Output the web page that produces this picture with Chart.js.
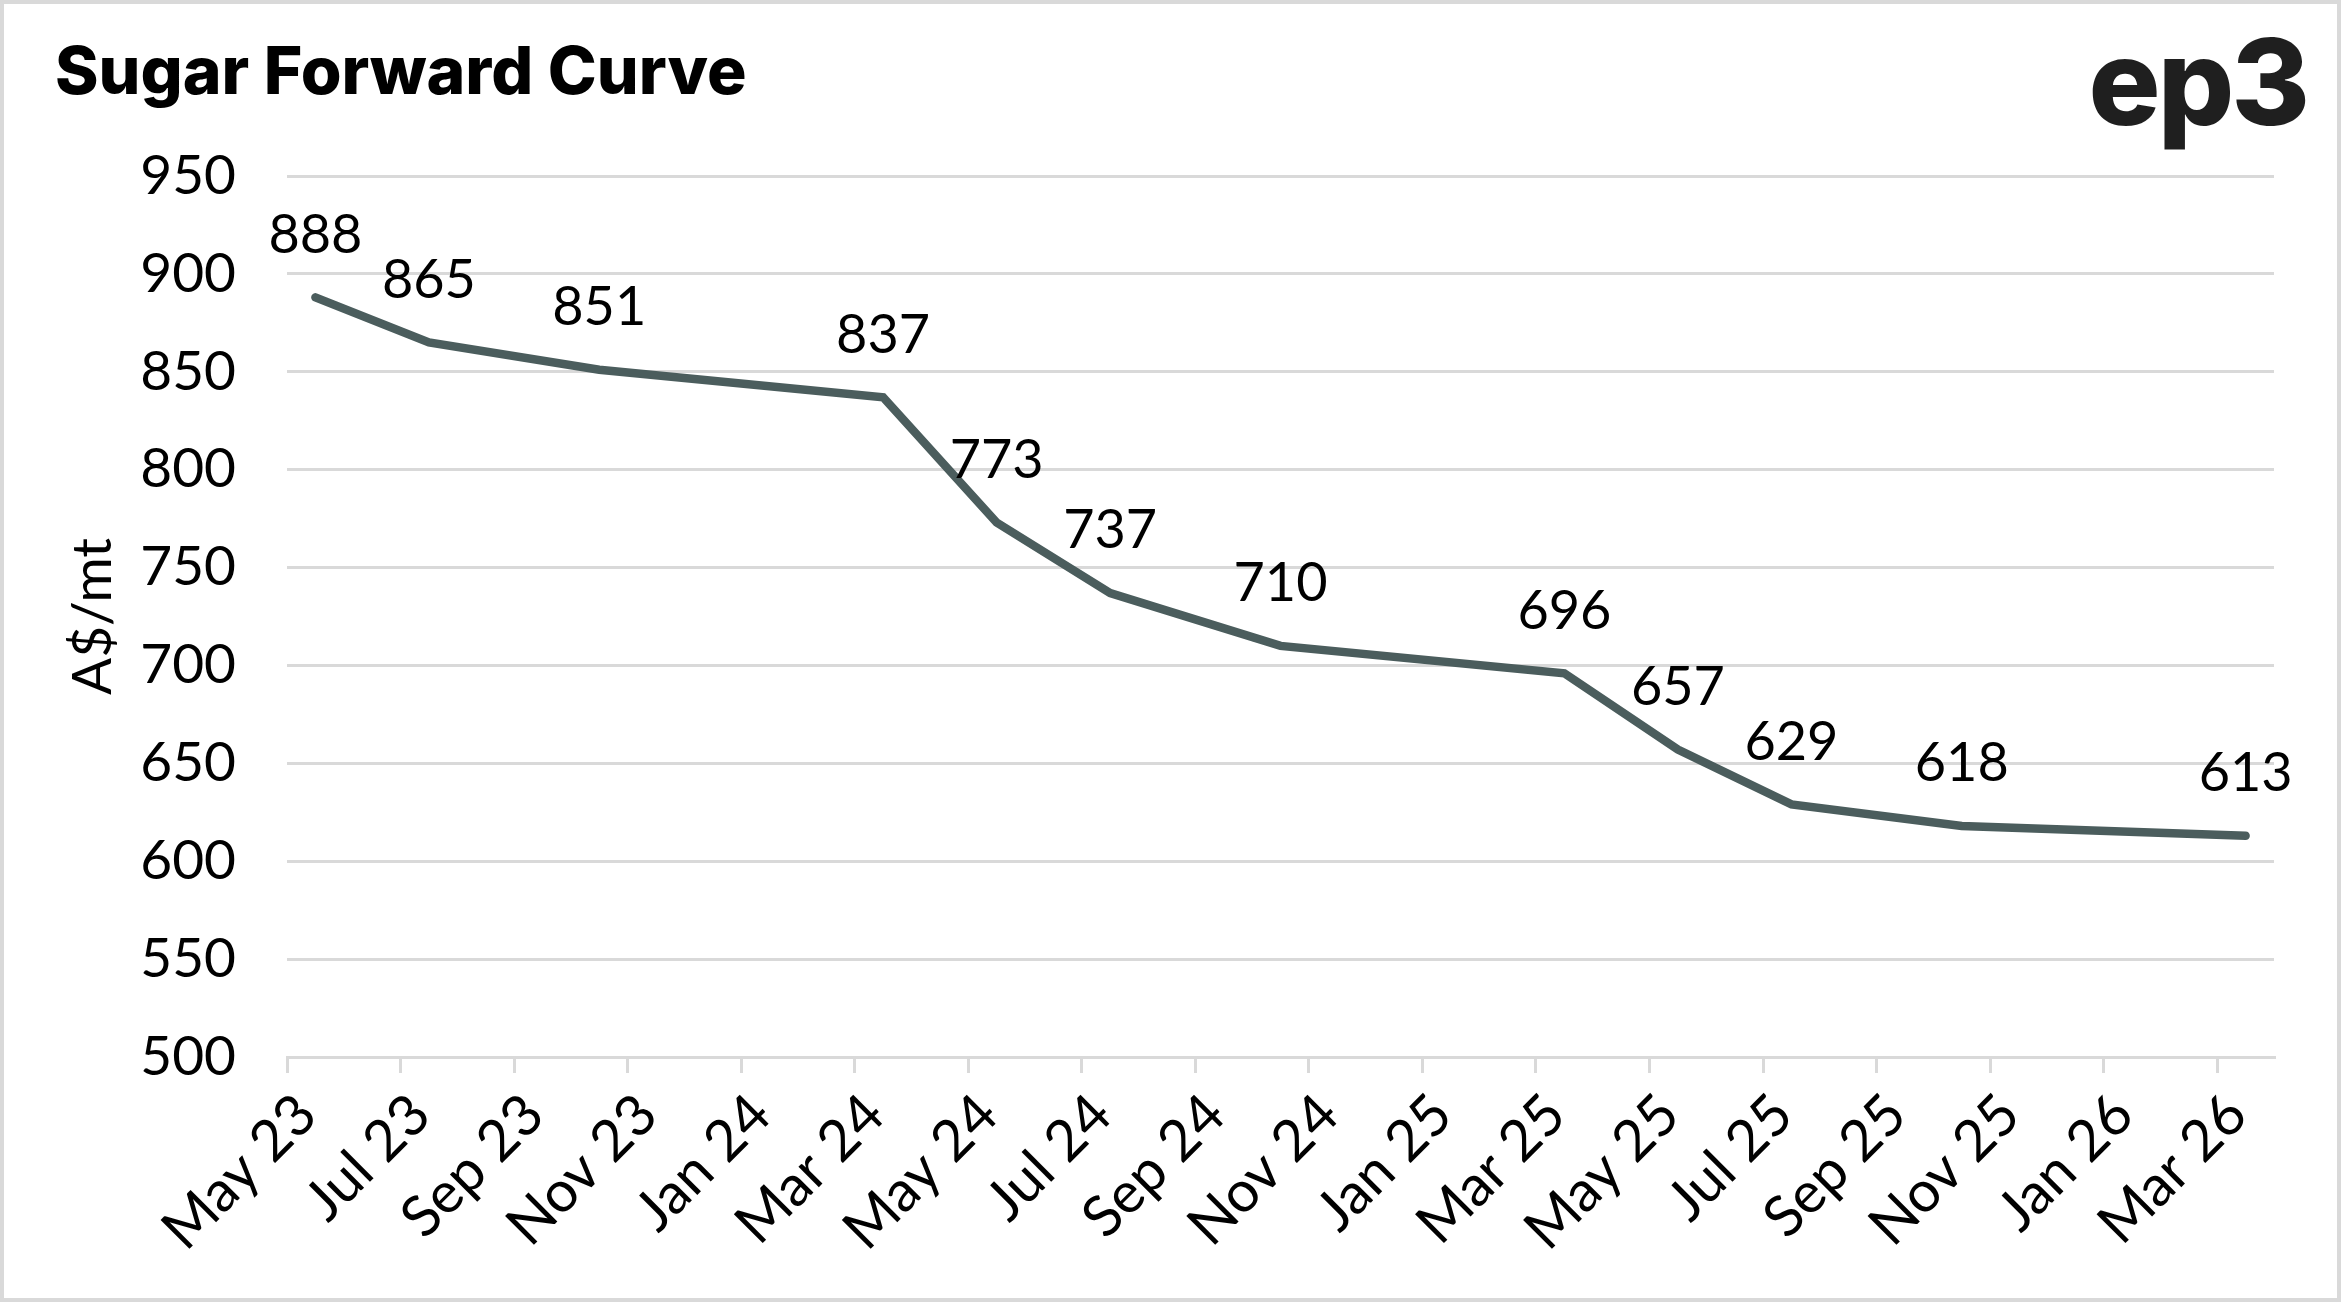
<!DOCTYPE html>
<html>
<head>
<meta charset="utf-8">
<script src="https://cdn.jsdelivr.net/npm/chart.js@4.4.1/dist/chart.umd.min.js"></script>
<style>
  html, body { margin: 0; padding: 0; background: #fff; }
  .cadre { position: relative; width: 2341px; height: 1302px; overflow: hidden; }
  .bordure { position: absolute; left: 0; top: 0; width: 2341px; height: 1302px;
             box-sizing: border-box; border: 4px solid #d9d9d9; pointer-events: none; }
  .titre { position: absolute; left: 55px; top: 37px; margin: 0;
           font-family: "Inter", sans-serif; font-weight: 800; font-size: 66px;
           line-height: 1; color: #000; letter-spacing: 0px; }
  .logo { position: absolute; right: 34px; top: 22px;
          font-family: "Inter", sans-serif; font-weight: 800; font-size: 120px;
          line-height: 1; color: #1f1f1f; letter-spacing: -3px; }
  canvas { position: absolute; left: 0; top: 0; }
</style>
</head>
<body>
<div class="cadre">
  <canvas id="graphique" width="2341" height="1302"></canvas>
  <h1 class="titre">Sugar Forward Curve</h1>
  <div class="logo">ep3</div>
  <div class="bordure"></div>
</div>
<script>
// Contrats à terme et prix (A$/mt)
const contrats = ['May 23', 'Jul 23', 'Oct 23', 'Mar 24', 'May 24', 'Jul 24',
                  'Oct 24', 'Mar 25', 'May 25', 'Jul 25', 'Oct 25', 'Mar 26'];
const prix = [888, 865, 851, 837, 773, 737, 710, 696, 657, 629, 618, 613];

// Étiquettes de l'axe des x (un repère tous les deux mois, à partir de May 23)
const etiquettesX = ['May 23', 'Jul 23', 'Sep 23', 'Nov 23', 'Jan 24', 'Mar 24',
                     'May 24', 'Jul 24', 'Sep 24', 'Nov 24', 'Jan 25', 'Mar 25',
                     'May 25', 'Jul 25', 'Sep 25', 'Nov 25', 'Jan 26', 'Mar 26'];
const etiquettesY = [500, 550, 600, 650, 700, 750, 800, 850, 900, 950];

const mois = ['Jan', 'Feb', 'Mar', 'Apr', 'May', 'Jun', 'Jul', 'Aug', 'Sep', 'Oct', 'Nov', 'Dec'];

function positionMois(libelle) {
    // Nombre de mois depuis le début de May 23, point placé en milieu de mois
    const [m, a] = libelle.split(' ');
    return (Number(a) - 23) * 12 + mois.indexOf(m) - 4 + 0.5;
}

const points = contrats.map((c, i) => ({ x: positionMois(c), y: prix[i] }));

const police = '"Lato", "Noto Sans", sans-serif';
const gris = '#d9d9d9';

// Affiche la valeur au-dessus de chaque point
const etiquettesValeurs = {
    id: 'etiquettesValeurs',
    afterDatasetsDraw(chart) {
        const ctx = chart.ctx;
        const meta = chart.getDatasetMeta(0);
        ctx.save();
        ctx.font = '54px ' + police;
        ctx.fillStyle = '#000';
        ctx.textAlign = 'center';
        ctx.textBaseline = 'middle';
        meta.data.forEach((el, i) => {
            ctx.fillText(String(prix[i]), el.x, el.y - 62);
        });
        ctx.restore();
    }
};

new Chart(document.getElementById('graphique'), {
    type: 'line',
    data: {
        datasets: [{
            data: points,
            borderColor: '#4b5d5d',
            borderWidth: 8.5,
            pointRadius: 0,
            tension: 0,
            borderCapStyle: 'round',
            borderJoinStyle: 'miter',
        }],
    },
    options: {
        responsive: false,
        animation: false,
        layout: { padding: { top: 176, right: 67, left: 0, bottom: 0 } },
        plugins: {
            legend: { display: false },
            tooltip: { enabled: false },
        },
        scales: {
            x: {
                type: 'linear',
                min: 0,
                max: 35,
                afterBuildTicks(scale) {
                    scale.ticks = etiquettesX.map((_, i) => ({ value: i * 2 }));
                },
                afterFit(scale) { scale.height = 245; },
                ticks: {
                    autoSkip: false,
                    maxRotation: 45,
                    minRotation: 45,
                    padding: 8,
                    labelOffset: 20,
                    color: '#000',
                    font: { family: police, size: 57 },
                    callback: (v) => etiquettesX[v / 2],
                },
                grid: {
                    drawOnChartArea: false,
                    drawTicks: true,
                    tickLength: 16,
                    color: gris,
                    lineWidth: 3,
                },
                border: { display: true, color: gris, width: 3 },
            },
            y: {
                min: 500,
                max: 950,
                afterBuildTicks(scale) {
                    scale.ticks = etiquettesY.map(v => ({ value: v }));
                },
                afterFit(scale) { scale.width = 287; },
                ticks: {
                    padding: 51,
                    color: '#000',
                    font: { family: police, size: 55 },
                },
                grid: { color: gris, lineWidth: 3, drawTicks: false },
                border: { display: false },
                title: {
                    display: true,
                    text: 'A$/mt',
                    color: '#000',
                    font: { family: police, size: 55 },
                    padding: { top: 60, bottom: 0 },
                },
            },
        },
    },
    plugins: [etiquettesValeurs],
});
</script>
</body>
</html>
